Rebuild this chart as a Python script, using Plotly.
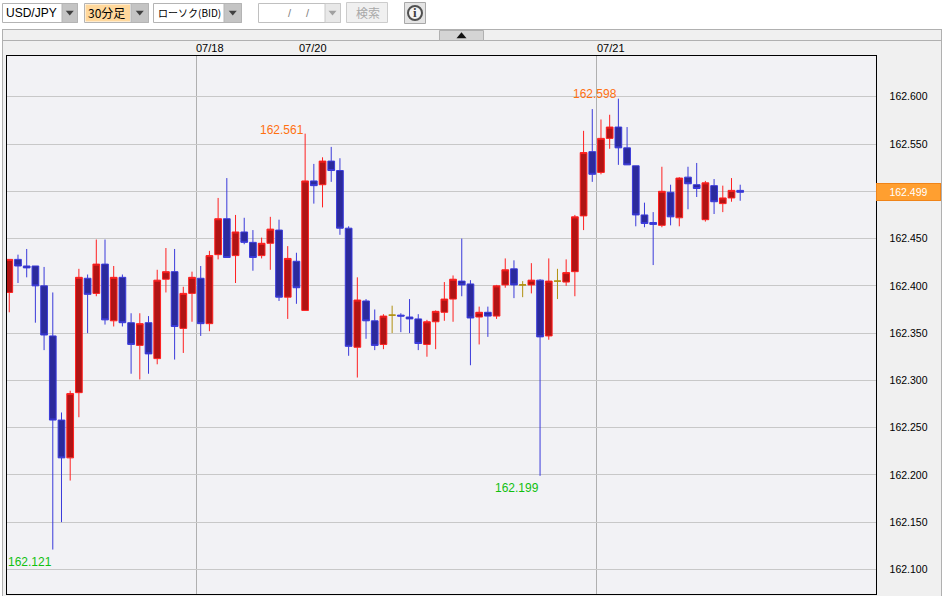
import plotly.graph_objects as go

# --- data (prices) ---
opens = [162.393,162.428,162.421,162.421,162.400,162.347,162.258,162.218,162.287,162.408,
         162.392,162.423,162.363,162.409,162.361,162.337,162.361,162.323,162.407,162.415,
         162.355,162.392,162.408,162.360,162.433,162.471,162.432,162.457,162.446,162.432,
         162.445,162.459,162.388,162.426,162.374,162.511,162.507,162.532,162.522,162.461,
         162.335,162.384,162.363,162.338,162.369,162.369,162.367,162.365,162.338,162.362,
         162.372,162.386,162.405,162.402,162.367,162.372,162.368,162.401,162.418,162.401,
         162.401,162.406,162.347,162.405,162.404,162.415,162.474,162.542,162.520,162.556,
         162.568,162.546,162.527,162.475,162.467,162.464,162.499,162.472,162.515,162.507,
         162.470,162.506,162.487,162.493,162.501]
highs = [162.428,162.433,162.439,162.421,162.420,162.393,162.266,162.289,162.418,162.412,
         162.449,162.449,162.421,162.412,162.371,162.371,162.368,162.417,162.440,162.439,
         162.399,162.415,162.421,162.437,162.493,162.514,162.475,162.472,162.459,162.451,
         162.473,162.470,162.442,162.435,162.561,162.529,162.536,162.547,162.535,162.463,
         162.409,162.386,162.375,162.370,162.379,162.371,162.386,162.370,162.364,162.374,
         162.404,162.411,162.450,162.406,162.378,162.378,162.401,162.429,162.427,162.405,
         162.424,162.407,162.429,162.418,162.428,162.475,162.564,162.587,162.576,162.581,
         162.598,162.568,162.527,162.488,162.478,162.526,162.507,162.515,162.526,162.530,
         162.511,162.513,162.506,162.514,162.507]
lows = [162.372,162.403,162.409,162.361,162.332,162.121,162.150,162.194,162.261,162.350,
        162.389,162.359,162.357,162.357,162.307,162.301,162.307,162.317,162.393,162.322,
        162.329,162.362,162.347,162.352,162.428,162.430,162.403,162.444,162.416,162.429,
        162.417,162.384,162.365,162.381,162.374,162.487,162.483,162.510,162.454,162.326,
        162.303,162.344,162.332,162.333,162.350,162.351,162.350,162.332,162.325,162.333,
        162.363,162.362,162.389,162.316,162.338,162.346,162.365,162.398,162.387,162.388,
        162.392,162.199,162.343,162.386,162.400,162.389,162.459,162.510,162.518,162.545,
        162.528,162.528,162.463,162.462,162.422,162.462,162.464,162.463,162.481,162.494,
        162.468,162.476,162.478,162.489,162.490]
closes = [162.428,162.421,162.419,162.400,162.348,162.258,162.218,162.286,162.409,162.391,
          162.423,162.364,162.409,162.361,162.338,162.360,162.328,162.406,162.415,162.357,
          162.392,162.409,162.360,162.432,162.471,162.430,162.457,162.446,162.430,162.445,
          162.460,162.388,162.429,162.398,162.511,162.506,162.532,162.522,162.461,162.336,
          162.385,162.363,162.337,162.368,162.369,162.368,162.365,162.339,162.362,162.373,
          162.386,162.407,162.401,162.366,162.372,162.368,162.400,162.417,162.401,162.401,
          162.406,162.346,162.405,162.405,162.414,162.473,162.541,162.518,162.556,162.568,
          162.546,162.528,162.475,162.466,162.465,162.500,162.473,162.514,162.508,162.503,
          162.509,162.489,162.493,162.501,162.499]

y_ticks = [162.100,162.150,162.200,162.250,162.300,162.350,162.400,162.450,162.500,162.550,162.600]
y_tick_labels = ["162.100","162.150","162.200","162.250","162.300","162.350","162.400","162.450","","162.550","162.600"]
session_lines = [21.5, 67.5]
date_labels = ["07/18", "07/20", "07/21"]
date_positions = [21.3, 33.2, 67.4]
extreme_texts = ["162.561", "162.598", "162.199", "162.121"]
extreme_bars = [34, 70, 61, 5]
extreme_values = [162.561, 162.598, 162.199, 162.121]
extreme_colors = ["#ff7010", "#ff7010", "#10c010", "#10c010"]
last_price = 162.499

W, H = 944, 596
L, R, T, B = 6.5, 875.5, 55.5, 593.5
px = lambda v: v / W
py = lambda v: 1 - v / H

RED, RED_F = "#ff2020", "#b01414"
BLU, BLU_F = "#3a3ada", "#2b2a9c"
GLD = "#b09010"


def subset(test):
    idx = [i for i in range(len(opens)) if test(opens[i], closes[i])]
    return dict(x=idx, open=[opens[i] for i in idx], high=[highs[i] for i in idx],
                low=[lows[i] for i in idx], close=[closes[i] for i in idx])


def candle(sel, line, fill):
    style = dict(line=dict(color=line, width=1), fillcolor=fill)
    return go.Candlestick(**sel, increasing=style, decreasing=style, whiskerwidth=0,
                          showlegend=False, hoverinfo="skip")


fig = go.Figure([
    candle(subset(lambda o, c: c > o), RED, RED_F),
    candle(subset(lambda o, c: c < o), BLU, BLU_F),
    candle(subset(lambda o, c: c == o), GLD, GLD),
])

shapes, notes = [], []


def rect(x0, y0, x1, y1, fill="rgba(0,0,0,0)", line="rgba(0,0,0,0)", lw=1, layer="above"):
    shapes.append(dict(type="rect", xref="paper", yref="paper", x0=px(x0), x1=px(x1),
                       y0=py(y0), y1=py(y1), fillcolor=fill, line=dict(color=line, width=lw),
                       layer=layer))


def hline(x0, x1, y, color="#b0b0b0"):
    shapes.append(dict(type="line", xref="paper", yref="paper", x0=px(x0), x1=px(x1),
                       y0=py(y), y1=py(y), line=dict(color=color, width=1)))


def tri(cx, cy, size, color, up=False):
    s = -1 if up else 1
    path = (f"M {px(cx-size)} {py(cy-s*size*0.55)} L {px(cx+size)} {py(cy-s*size*0.55)} "
            f"L {px(cx)} {py(cy+s*size*0.65)} Z")
    shapes.append(dict(type="path", xref="paper", yref="paper", path=path, fillcolor=color,
                       line=dict(width=0), layer="above"))


def text(t, x, y, size=12, color="#000", font="Liberation Sans", anchor="left"):
    notes.append(dict(text=t, xref="paper", yref="paper", x=px(x), y=py(y), xanchor=anchor,
                      yanchor="middle", showarrow=False, borderpad=0,
                      font=dict(size=size, color=color, family=font)))


# page chrome
rect(0, 0, W, 29, fill="#ffffff", line="#ffffff", layer="below")
rect(0, 29, 2, H, fill="#ffffff", line="#ffffff", layer="below")
rect(942, 29, W, H, fill="#ffffff", line="#ffffff", layer="below")
hline(2, 941.5, 29.5)
hline(2, 941.5, 40.5)
shapes.append(dict(type="line", xref="paper", yref="paper", x0=px(2.5), x1=px(2.5), y0=py(29), y1=0,
                   line=dict(color="#b0b0b0", width=1)))
shapes.append(dict(type="line", xref="paper", yref="paper", x0=px(941.5), x1=px(941.5), y0=py(29), y1=0,
                   line=dict(color="#b0b0b0", width=1)))
rect(439.5, 30.5, 483.5, 40.5, fill="#d4d4d4", line="#b0b0b0")
tri(461.5, 35.5, 5, "#111111", up=True)

# toolbar
for x0, x1, bx in [(2.5, 77.5, 62), (84.5, 148.5, 131), (153.5, 241.5, 224)]:
    rect(x0, 3.5, x1, 22.5, fill="#ffffff", line="#b4b4b4")
    rect(bx, 3.5, x1, 22.5, fill="#c4c4c4", line="#b4b4b4")
    tri((bx + x1) / 2, 13, 4, "#404040")
rect(85.5, 4.5, 130, 21.5, fill="#ffd89c")
rect(258.5, 3.5, 340.5, 22.5, fill="#ffffff", line="#c0c0c0")
rect(325, 3.5, 340.5, 22.5, fill="#e8e8e8", line="#c8c8c8")
tri(332.5, 13, 4, "#a0a0a0")
rect(346.5, 2.5, 387.5, 22.5, fill="#f0f0f0", line="#cccccc")
rect(404.5, 2.5, 425.5, 23.5, fill="#e4e4e4", line="#a8a8a8")
shapes.append(dict(type="circle", xref="paper", yref="paper", x0=px(408), x1=px(422), y0=py(20),
                   y1=py(6), fillcolor="#f4f4f4", line=dict(color="#505050", width=2), layer="above"))
text("USD/JPY", 5, 13, 12)
text("30分足", 87, 13, 12, font="Noto Sans CJK JP")
text("ローソク(BID)", 157, 13, 10, font="Noto Sans CJK JP")
text("/", 287, 13, 11, "#808080")
text("/", 305, 13, 11, "#808080")
text("検索", 355, 13, 12, "#a8a8a8", font="Noto Sans CJK JP")
text("<b>i</b>", 415, 13, 13, "#404040", font="Liberation Serif", anchor="center")

# dates above plot, extreme labels in the plot
for lab, pos in zip(date_labels, date_positions):
    notes.append(dict(text=lab, xref="x", yref="paper", x=pos, y=py(48), xanchor="left",
                      yanchor="middle", showarrow=False, borderpad=0,
                      font=dict(size=11, color="#000", family="Liberation Sans")))
yshifts = [4, 5, -12, -12]
for lab, pos, val, col, ys in zip(extreme_texts, extreme_bars, extreme_values, extreme_colors, yshifts):
    notes.append(dict(text=lab, xref="x", yref="y", x=pos, y=val, xanchor="right",
                      yanchor="middle", showarrow=False, borderpad=0, yshift=ys,
                      font=dict(size=12, color=col, family="Liberation Sans")))

# current price tag
notes.append(dict(text=f"{last_price:.3f}", xref="paper", yref="y", x=px(876), y=last_price,
                  xanchor="left", yanchor="middle", showarrow=False, width=63, height=16,
                  bgcolor="#ff9f30", bordercolor="#f08418", borderwidth=1, borderpad=0,
                  font=dict(size=10.5, color="#ffffff", family="Liberation Sans")))

fig.update_layout(
    width=W, height=H, margin=dict(l=0, r=0, t=0, b=0),
    paper_bgcolor="#f0f0f0", plot_bgcolor="#f2f2f5", showlegend=False,
    boxmode="overlay", boxgap=0.23, boxgroupgap=0, shapes=shapes, annotations=notes,
    xaxis=dict(domain=[px(L), px(R)], range=[-0.32, 99.55], rangeslider=dict(visible=False),
               tickvals=session_lines, showticklabels=False, ticks="", showgrid=True,
               gridcolor="#b0b0b0", gridwidth=1, zeroline=False, showline=True, mirror=True,
               linecolor="#000000", linewidth=1),
    yaxis=dict(domain=[py(B), py(T)], range=[162.0745, 162.6437], side="right",
               tickvals=y_ticks, ticktext=y_tick_labels, ticks="", ticklabelstandoff=11,
               tickfont=dict(size=10.5, color="#000", family="Liberation Sans"),
               showgrid=True, gridcolor="#c8c8c8", gridwidth=1, zeroline=False, showline=True,
               mirror=True, linecolor="#000000", linewidth=1),
)
fig.write_html("out.html", config={"displayModeBar": False},
               post_script="document.body.style.margin='0';")
